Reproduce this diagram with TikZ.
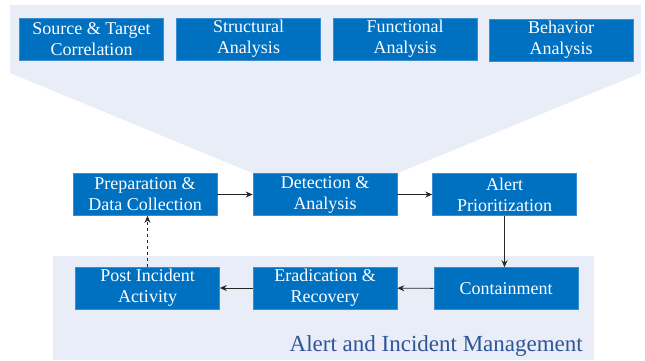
\documentclass[tikz,border=0pt]{standalone}
\usepackage{fontspec}
\setmainfont{Liberation Serif}
\usetikzlibrary{arrows.meta, backgrounds}
\definecolor{boxblue}{RGB}{0,112,192}
\definecolor{boxedge}{RGB}{60,141,208}
\definecolor{panelblue}{RGB}{232,237,247}
\definecolor{titleblue}{RGB}{47,85,151}
\begin{document}
\begin{tikzpicture}[x=1pt, y=-1pt,
		stagebox/.style={draw=boxedge, line width=0.6pt, fill=boxblue, text=white,
			minimum width=144pt, minimum height=42pt, inner sep=1pt, align=center,
			font=\fontsize{18}{21}\selectfont},
		flow/.style={line width=0.9pt, color=black!85, -{Stealth[length=7pt, width=6pt]}}]
	\useasboundingbox (0,0) rectangle (645,360);
	% analysis methods
	\node [stagebox] (corr) at (91.5,39) {Source \& Target\\Correlation};
	\node [stagebox] (struct) at (248.5,39) {Structural\\Analysis};
	\node [stagebox] (func) at (405,39) {Functional\\Analysis};
	\node [stagebox] (behav) at (561,40) {Behavior\\Analysis};
	% incident handling cycle
	\node [stagebox] (prep) at (145,194.5) {Preparation \&\\Data Collection};
	\node [stagebox] (detect) at (325,194.5) {Detection \&\\Analysis};
	\node [stagebox] (prio) at (504.5,194.5) {Alert\\Prioritization};
	\node [stagebox] (post) at (147.5,288) {Post Incident\\Activity};
	\node [stagebox] (erad) at (325,288) {Eradication \&\\Recovery};
	\node [stagebox] (contain) at (506,288.5) {Containment};
	% panels behind the boxes
	\begin{pgfonlayer}{background}
		\fill [panelblue]
		(10,5) --
		(641,5) --
		(641,73) --
		(detect.north east) --
		(detect.north west) --
		(10,73) --
		cycle;
		\fill [panelblue] (53,256) rectangle (594,360);
	\end{pgfonlayer}
	\node [anchor=base east, text=titleblue, inner sep=0pt,
		font=\fontsize{23}{26}\selectfont] (title) at (583,351) {Alert and Incident Management};
	% connectors
	\draw [flow] (prep) -- (detect);
	\draw [flow] (detect) -- (prio);
	\draw [flow] (prio.south) -- (prio.south |- contain.north);
	\draw [flow] (contain) -- (erad);
	\draw [flow] (erad) -- (post);
	\draw [flow, dashed] (post.north) -- (post.north |- prep.south);
\end{tikzpicture}
\end{document}
